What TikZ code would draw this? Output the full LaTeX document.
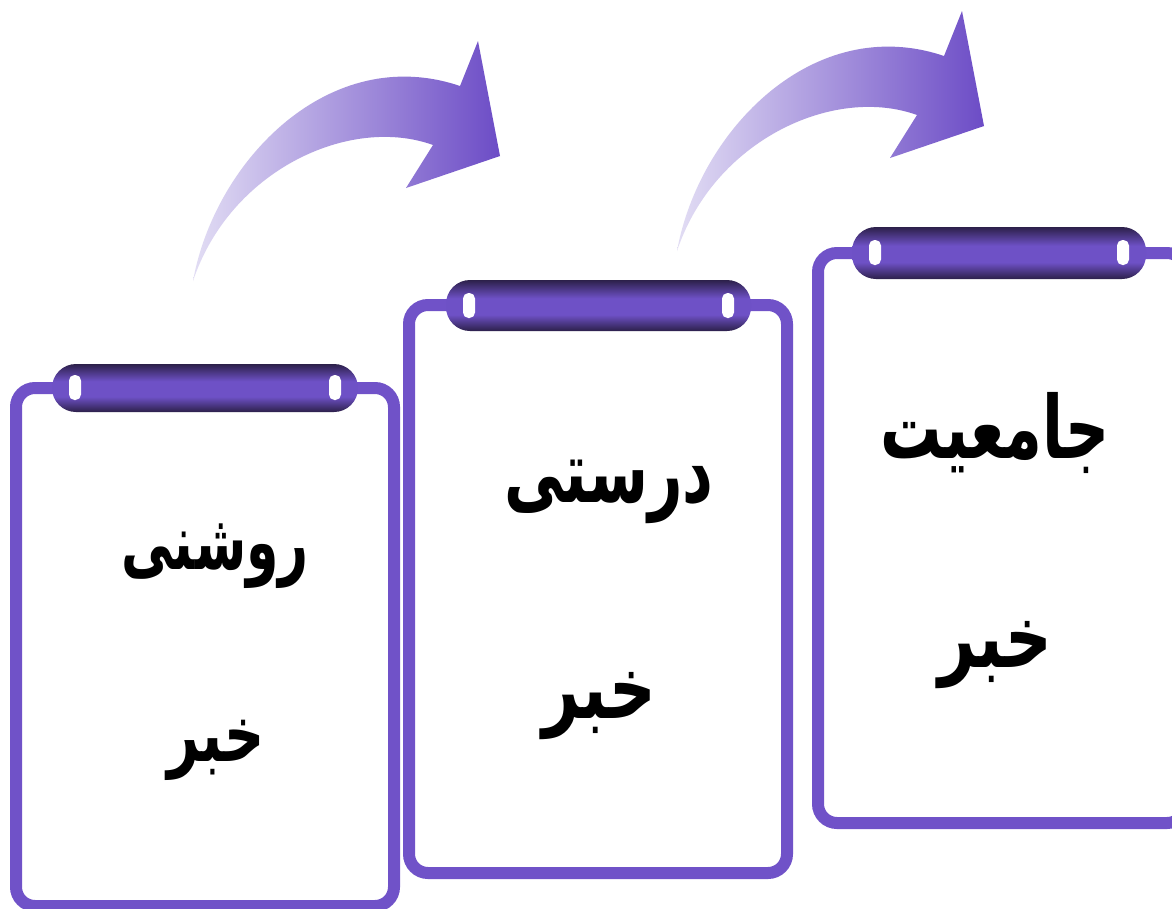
\documentclass[tikz,border=0pt]{standalone}
\usepackage{fontspec}
\usepackage{graphicx}
\TeXXeTstate=1
\newfontfamily\arabicfont[Script=Arabic]{DejaVu Sans}
\definecolor{cardpurple}{RGB}{112,82,200}
\definecolor{bardark}{RGB}{44,32,74}
\definecolor{barmid}{RGB}{110,81,198}
\definecolor{arrowlight}{RGB}{226,221,244}
\definecolor{arrowdark}{RGB}{108,76,198}
\pgfdeclareverticalshading{barshade}{100bp}{color(0bp)=(bardark); color(25bp)=(bardark); color(41bp)=(barmid); color(57bp)=(barmid); color(75bp)=(bardark); color(100bp)=(bardark)}
\tikzset{
  card/.style={draw=cardpurple, line width=12pt, fill=white, rounded corners=19pt},
  barbox/.style={shading=barshade, rounded corners=24pt},
  slot/.style={fill=white, rounded corners=5.5pt},
  flowarrow/.style={left color=arrowlight, right color=arrowdark},
  word/.style={font=\arabicfont\bfseries\fontsize{60}{64}\selectfont, inner sep=0pt, text=black}
}
\newcommand{\fawrd}[3]{\scalebox{#1}[#2]{\beginR #3\endR}}
\newcommand{\arrowshape}{%
  (193,281) .. controls (215,160) and (330,42) .. (460,86)
  -- (478,41) -- (500,156) -- (406,188) -- (433,145)
  .. controls (350,115) and (230,170) .. (193,281) -- cycle}
\newcommand{\clipbar}[5]{%
  \shade[barbox] (#1,#2) rectangle (#3,#4);
  \fill[slot] ({#1+17},#5) rectangle ({#1+29},{#5+25});
  \fill[slot] ({#3-29},#5) rectangle ({#3-17},{#5+25});
}
\begin{document}
\begin{tikzpicture}[x=1pt, y=-1pt]
\useasboundingbox (0,0) rectangle (1172,908);
\clip (0,0) rectangle (1172,908);
\fill[white] (0,0) rectangle (1172,908);

% arrows
\shade[flowarrow] \arrowshape;
\begin{scope}[shift={(484,-30)}]
\shade[flowarrow] \arrowshape;
\end{scope}

% cards
\draw[card] (16,388) rectangle (394,906);
\draw[card] (409,305) rectangle (787,873);
\draw[card] (818,253) rectangle (1186,823);

% bars
\clipbar{52}{364}{358}{412}{375}
\clipbar{446}{280}{751}{331}{293}
\clipbar{852}{227}{1146}{279}{240}

% texts
\node[word] (c1a) at (215,556) {\fawrd{0.87}{1.3}{روشنی}};
\node[word] (c1b) at (216,750) {\fawrd{0.93}{1.3}{خبر}};
\node[word] (c2a) at (609,492) {\fawrd{1.0}{1.45}{درستی}};
\node[word] (c2b) at (599,706) {\fawrd{1.08}{1.45}{خبر}};
\node[word] (c3a) at (995,433) {\fawrd{1.02}{1.45}{جامعیت}};
\node[word] (c3b) at (995,655) {\fawrd{1.08}{1.45}{خبر}};
\end{tikzpicture}
\end{document}
